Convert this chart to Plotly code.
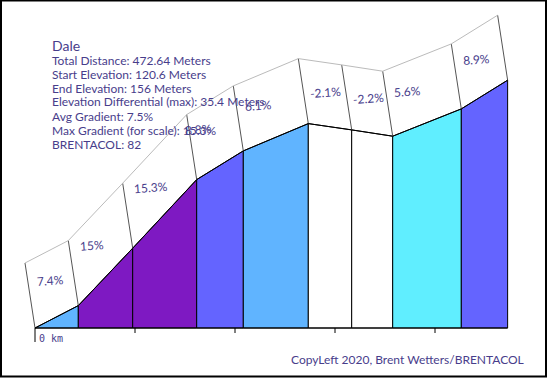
import math
import plotly.graph_objects as go

# ---------------- data ----------------
title = "Dale"
info_lines = [
    "Total Distance: 472.64 Meters",
    "Start Elevation: 120.6 Meters",
    "End Elevation: 156 Meters",
    "Elevation Differential (max): 35.4 Meters",
    "Avg Gradient: 7.5%",
    "Max Gradient (for scale): 15.3%",
    "BRENTACOL: 82",
]
credit = "CopyLeft 2020, Brent Wetters/BRENTACOL"

distances = [0, 43.3, 97.7, 161.7, 208.3, 273.3, 316.7, 357.7, 426.3, 472.64]   # meters
elevations = [120.6, 123.8, 132.0, 141.8, 145.9, 149.8, 148.9, 148.0, 151.9, 156.0]  # meters
grade_labels = ["7.4%", "15%", "15.3%", "8.8%", "6.1%", "-2.1%", "-2.2%", "5.6%", "8.9%"]
seg_colors = ["#60b4ff", "#7e19c2", "#7e19c2", "#6464ff", "#60b4ff",
              "#ffffff", "#ffffff", "#60eeff", "#6464ff"]
tick_km = [0.1, 0.2, 0.3, 0.4]
zero_label = "0 km"

# ---------------- layout constants ----------------
W, H = 548, 378
X0_PX, BASE_PX = 35, 328
PX_PER_M_X, PX_PER_M_Y = 1.0, 7.0
PANEL_DX, PANEL_DY = -10, 65          # pixel offset of the "wall" panels
LABEL_NUDGE_PX = {3: -13}             # horizontal tweak of individual gradient labels
TXT = "darkslateblue"
FONT = "Lato"

base = min(elevations)
x_range = [-X0_PX / PX_PER_M_X, (W - X0_PX) / PX_PER_M_X]
y_range = [base - (H - BASE_PX) / PX_PER_M_Y, base + BASE_PX / PX_PER_M_Y]
pdx = PANEL_DX / PX_PER_M_X
pdy = PANEL_DY / PX_PER_M_Y

fig = go.Figure()

# colored segments
for i in range(len(distances) - 1):
    x0, x1 = distances[i], distances[i + 1]
    e0, e1 = elevations[i], elevations[i + 1]
    fig.add_trace(go.Scatter(
        x=[x0, x0, x1, x1, x0], y=[base, e0, e1, base, base],
        mode="lines", fill="toself", fillcolor=seg_colors[i],
        line=dict(color="black", width=1), hoverinfo="skip", showlegend=False))

# panel side edges
sx, sy = [], []
for d, e in zip(distances, elevations):
    sx += [d, d + pdx, None]
    sy += [e, e + pdy, None]
fig.add_trace(go.Scatter(x=sx, y=sy, mode="lines",
                         line=dict(color="#555555", width=1),
                         hoverinfo="skip", showlegend=False))
# panel top edges
fig.add_trace(go.Scatter(x=[d + pdx for d in distances],
                         y=[e + pdy for e in elevations], mode="lines",
                         line=dict(color="#bbbbbb", width=1),
                         hoverinfo="skip", showlegend=False))
# profile line on top
fig.add_trace(go.Scatter(x=distances, y=elevations, mode="lines",
                         line=dict(color="black", width=1),
                         hoverinfo="skip", showlegend=False))

# baseline & ticks
fig.add_trace(go.Scatter(x=[distances[0], distances[-1]], y=[base, base], mode="lines",
                         line=dict(color="black", width=1),
                         hoverinfo="skip", showlegend=False))
tx, ty = [0, 0, None], [base, base - 14 / PX_PER_M_Y, None]
for t in tick_km:
    tx += [t * 1000, t * 1000, None]
    ty += [base, base - 5 / PX_PER_M_Y, None]
fig.add_trace(go.Scatter(x=tx, y=ty, mode="lines",
                         line=dict(color="black", width=1),
                         hoverinfo="skip", showlegend=False))

annotations = []
# gradient labels
for i, lab in enumerate(grade_labels):
    g = (elevations[i + 1] - elevations[i]) / (distances[i + 1] - distances[i])
    yc = elevations[i] + g * 24 + 35 / PX_PER_M_Y
    xl = distances[i] - 1 + LABEL_NUDGE_PX.get(i, 0) / PX_PER_M_X
    annotations.append(dict(
        x=xl, y=yc, xref="x", yref="y", text=lab, showarrow=False,
        xanchor="left", yanchor="middle", textangle=-4,
        font=dict(family=FONT, size=12, color=TXT)))

def px(xp, yp):
    return xp / W, 1 - yp / H

# info block
x, y = px(50, 45)
annotations.append(dict(x=x, y=y, xref="paper", yref="paper", text=title,
                        showarrow=False, xanchor="left", yanchor="middle",
                        font=dict(family=FONT, size=14, color=TXT)))
for k, line in enumerate(info_lines):
    x, y = px(50, 60 + 14 * k)
    annotations.append(dict(x=x, y=y, xref="paper", yref="paper", text=line,
                            showarrow=False, xanchor="left", yanchor="middle",
                            font=dict(family=FONT, size=12, color=TXT)))
# zero label
annotations.append(dict(x=1.5, y=base - 10 / PX_PER_M_Y, xref="x", yref="y", text=zero_label,
                        showarrow=False, xanchor="left", yanchor="middle",
                        font=dict(family="DejaVu Sans Mono", size=10, color=TXT)))
# credit
x, y = px(526, 359)
annotations.append(dict(x=x, y=y, xref="paper", yref="paper", text=credit,
                        showarrow=False, xanchor="right", yanchor="middle",
                        font=dict(family=FONT, size=12, color=TXT)))

fig.update_layout(
    width=W, height=H, margin=dict(l=0, r=0, t=0, b=0),
    paper_bgcolor="white", plot_bgcolor="white",
    xaxis=dict(range=x_range, visible=False, fixedrange=True),
    yaxis=dict(range=y_range, visible=False, fixedrange=True),
    annotations=annotations,
    shapes=[dict(type="rect", xref="paper", yref="paper",
                 x0=1 / W, x1=546 / W, y0=1 - 376.5 / H, y1=1 - 0.5 / H,
                 line=dict(color="black", width=2), layer="above")],
    showlegend=False,
)

fig.write_html("out.html", config={"staticPlot": True},
               post_script="document.body.style.margin='0px';document.body.style.overflow='hidden';")
